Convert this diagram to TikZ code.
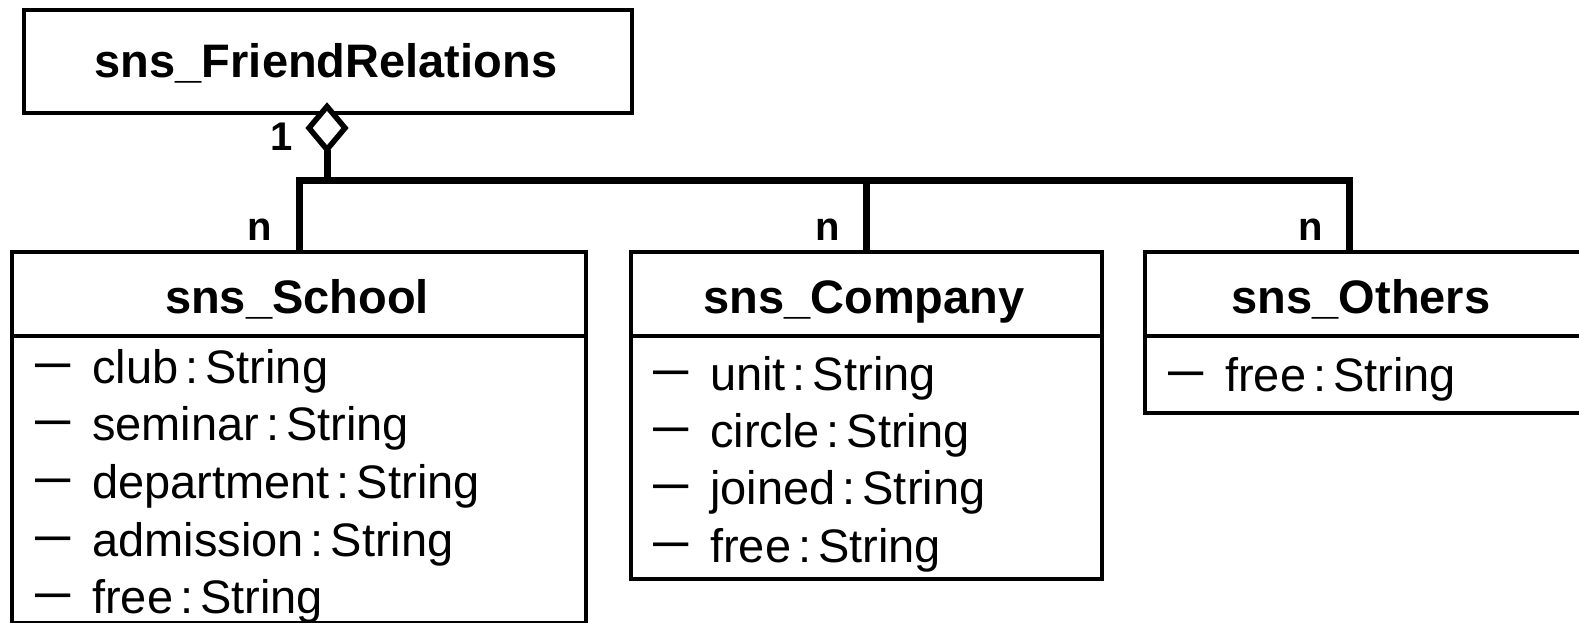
\documentclass[tikz,border=0pt]{standalone}
\usepackage{fontspec}
\setmainfont{Liberation Sans}
\usetikzlibrary{shapes.geometric}
\newcommand\umlattr[1]{\makebox[61pt][l]{\hspace{4pt}\raisebox{4pt}{\scalebox{0.75}[1.15]{—}}}#1\hspace{7pt}:\hspace{7pt}String}
\begin{document}
\begin{tikzpicture}[x=1pt,y=-1pt,
  box/.style={draw, line width=4pt, inner sep=0pt, anchor=north west, rectangle},
  sepline/.style={line width=4pt},
  conn/.style={line width=7pt, line join=miter, line cap=butt},
  ttl/.style={font=\fontsize{47}{56}\selectfont\bfseries, anchor=base, inner sep=0pt},
  attr/.style={font=\fontsize{47}{56}\selectfont, anchor=base west, inner sep=0pt},
  mult/.style={font=\fontsize{40}{48}\selectfont\bfseries, anchor=base, inner sep=0pt},
  agg/.style={diamond, draw, line width=5.5pt, fill=white, inner sep=0pt, outer sep=0pt, minimum width=36pt, minimum height=43pt}]
\useasboundingbox (0,0) rectangle (1579,623);
% boxes
\node[box, minimum width=608pt, minimum height=103pt] (top) at (22,8) {};
\node[box, minimum width=574pt, minimum height=371pt] (school) at (10,250) {};
\node[box, minimum width=471pt, minimum height=327pt] (company) at (629,250) {};
\node[box, minimum width=439pt, minimum height=161pt] (others) at (1143,250) {};
% separators
\coordinate (sep) at (0,336);
\draw[sepline] (school.west |- sep) -- (school.east |- sep);
\draw[sepline] (company.west |- sep) -- (company.east |- sep);
\draw[sepline] (others.west |- sep) -- (others.east |- sep);
% titles
\node[ttl] (ttop) at (326,78) {sns\_FriendRelations};
\node[ttl] (tschool) at (297,313) {sns\_School};
\node[ttl] (tcompany) at (864,313) {sns\_Company};
\node[ttl] (tothers) at (1361,313) {sns\_Others};
% attributes
\node[attr] (s1) at (31,383) {\umlattr{club}};
\node[attr] (s2) at (31,440) {\umlattr{seminar}};
\node[attr] (s3) at (31,498) {\umlattr{department}};
\node[attr] (s4) at (31,556) {\umlattr{admission}};
\node[attr] (s5) at (31,613) {\umlattr{free}};
\node[attr] (c1) at (649,390) {\umlattr{unit}};
\node[attr] (c2) at (649,447) {\umlattr{circle}};
\node[attr] (c3) at (649,504) {\umlattr{joined}};
\node[attr] (c4) at (649,562) {\umlattr{free}};
\node[attr] (o1) at (1164,391) {\umlattr{free}};
% connectors
\coordinate (diapos) at (327,128);
\node[agg] (dia) at (diapos) {};
\coordinate (bus) at (0,180);
\coordinate (othjoin) at (1349,180);
\draw[conn] (dia.south) -- (dia.south |- bus);
\draw[conn] (school.north) |- (othjoin) -- (othjoin |- others.north);
\draw[conn] (company.north) -- (company.north |- bus);
% multiplicities
\node[mult] (m1) at (282,150) {1};
\node[mult] (ms) at (260,240) {n};
\node[mult] (mc) at (828,240) {n};
\node[mult] (mo) at (1311,240) {n};
\end{tikzpicture}
\end{document}
